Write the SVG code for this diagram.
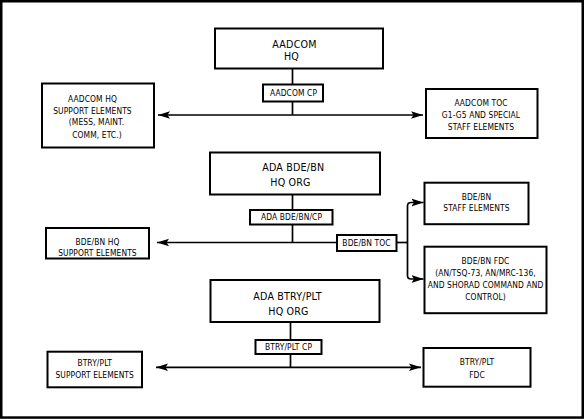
<svg xmlns="http://www.w3.org/2000/svg" width="584" height="419" viewBox="0 0 584 419">
<style>
.box{fill:#fff;stroke:#000;stroke-width:2}
.ln{fill:none;stroke:#000;stroke-width:1.7}
text{font-family:"DejaVu Sans Condensed","DejaVu Sans",sans-serif;font-stretch:condensed;fill:#000;text-anchor:middle}
.h{font-size:10.6px;letter-spacing:0.2px}
.s{font-size:8.4px;letter-spacing:0.1px}
</style>
<defs>
<marker id="ah" markerUnits="userSpaceOnUse" markerWidth="14" markerHeight="10" viewBox="0 -5 14 10" refX="12" refY="0" orient="auto-start-reverse">
<path d="M0,-3.8 L12,0 L0,3.8 L2.5,0 Z" fill="#000"/>
</marker>
</defs>
<rect x="1.25" y="1.25" width="581.5" height="416.3" fill="#fff" stroke="#000" stroke-width="2.5"/>
<g id="connectors">
<path class="ln" d="M292.5,68 V84.5 M292.5,101.5 V115"/>
<path class="ln" d="M158,115 H423" marker-start="url(#ah)" marker-end="url(#ah)"/>
<path class="ln" d="M292.5,194 V210 M292.5,224.5 V242.5"/>
<path class="ln" d="M337,242.5 H157" marker-end="url(#ah)"/>
<path class="ln" d="M396.5,242.5 H407.5"/>
<path class="ln" d="M423.5,202.5 H411 Q407.5,202.5 407.5,206 V275.5 Q407.5,279 411,279 H423.5" marker-start="url(#ah)" marker-end="url(#ah)"/>
<path class="ln" d="M290.5,322 V340 M290.5,354 V367.3"/>
<path class="ln" d="M156,367.3 H421" marker-start="url(#ah)" marker-end="url(#ah)"/>
</g>
<g id="aadcom-hq">
<rect class="box" x="215" y="28.5" width="168" height="40"/>
<text class="h" x="294.5" y="47.8">AADCOM</text>
<text class="h" x="291.5" y="60.3">HQ</text>
</g>
<g id="aadcom-cp">
<rect class="box" x="263" y="84.5" width="60" height="17"/>
<text class="s" x="293.5" y="96.2">AADCOM CP</text>
</g>
<g id="aadcom-support">
<rect class="box" x="42" y="83.5" width="112" height="64"/>
<text class="s" x="92.5" y="102">AADCOM HQ</text>
<text class="s" x="92.5" y="113.5">SUPPORT ELEMENTS</text>
<text class="s" x="96.5" y="125.3">(MESS, MAINT.</text>
<text class="s" x="97" y="137.5">COMM, ETC.)</text>
</g>
<g id="aadcom-toc">
<rect class="box" x="426" y="89" width="111.5" height="49"/>
<text class="s" x="481" y="105.7">AADCOM TOC</text>
<text class="s" x="481" y="118">G1-G5 AND SPECIAL</text>
<text class="s" x="481" y="129.7">STAFF ELEMENTS</text>
</g>
<g id="bde-hq">
<rect class="box" x="210" y="152.5" width="170" height="42"/>
<text class="h" x="293.3" y="170.5">ADA BDE/BN</text>
<text class="h" x="290.5" y="185.5">HQ ORG</text>
</g>
<g id="bde-cp">
<rect class="box" x="250" y="210" width="82.5" height="14.5"/>
<text class="s" x="291.5" y="220.3">ADA BDE/BN/CP</text>
</g>
<g id="bde-toc">
<rect class="box" x="337" y="235" width="59.5" height="16"/>
<text class="s" x="366.5" y="246">BDE/BN TOC</text>
</g>
<g id="bde-support">
<rect class="box" x="46" y="228" width="103" height="30.5"/>
<text class="s" x="97.5" y="244.5">BDE/BN HQ</text>
<text class="s" x="97.5" y="256.2">SUPPORT ELEMENTS</text>
</g>
<g id="bde-staff">
<rect class="box" x="424.5" y="182.7" width="104" height="41.5"/>
<text class="s" x="476.5" y="199.7">BDE/BN</text>
<text class="s" x="476.5" y="211.3">STAFF ELEMENTS</text>
</g>
<g id="bde-fdc">
<rect class="box" x="424.5" y="246.7" width="122" height="66.5"/>
<text class="s" x="485.5" y="264">BDE/BN FDC</text>
<text class="s" x="485.5" y="275.5">(AN/TSQ-73, AN/MRC-136,</text>
<text class="s" x="485.5" y="287.5">AND SHORAD COMMAND AND</text>
<text class="s" x="485.5" y="299.5">CONTROL)</text>
</g>
<g id="btry-hq">
<rect class="box" x="210.5" y="280" width="169" height="42"/>
<text class="h" x="287.5" y="299.5">ADA BTRY/PLT</text>
<text class="h" x="288.5" y="314.5">HQ ORG</text>
</g>
<g id="btry-cp">
<rect class="box" x="255.5" y="340" width="66" height="14"/>
<text class="s" x="288.5" y="350">BTRY/PLT CP</text>
</g>
<g id="btry-support">
<rect class="box" x="47.5" y="351.7" width="94.5" height="35.6"/>
<text class="s" x="94.7" y="365.5">BTRY/PLT</text>
<text class="s" x="94.7" y="377.5">SUPPORT ELEMENTS</text>
</g>
<g id="btry-fdc">
<rect class="box" x="423.5" y="348" width="107" height="38.7"/>
<text class="s" x="477" y="365.3">BTRY/PLT</text>
<text class="s" x="477" y="377.7">FDC</text>
</g>
</svg>
